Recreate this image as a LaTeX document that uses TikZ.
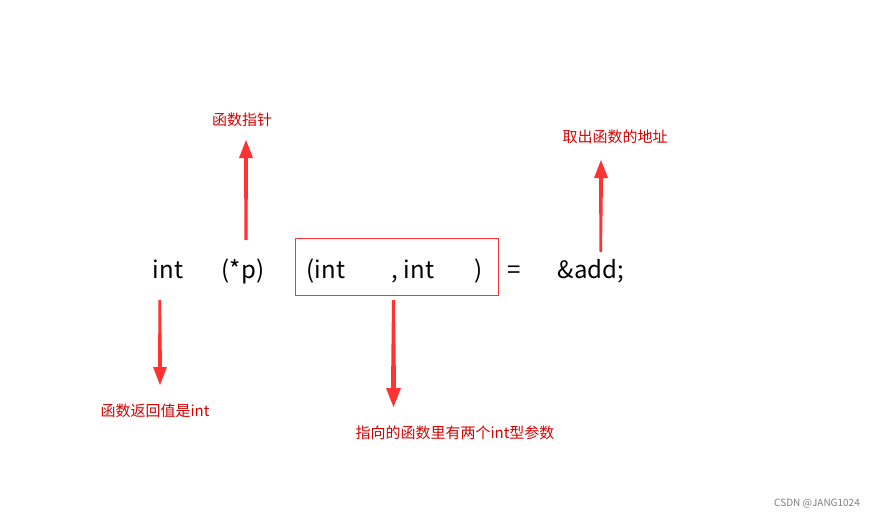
\documentclass[tikz,border=0pt]{standalone}
\usepackage{fontspec}
\setmainfont{Noto Sans CJK SC}
\begin{document}
\begin{tikzpicture}[x=1pt,y=-1pt,
  code/.style={inner sep=0pt,font=\fontsize{24}{28}\selectfont,text=black,anchor=base},
  lab/.style={inner sep=0pt,font=\fontsize{15}{18}\selectfont,text=red!85!black},
  arr/.style={fill=red!80!white}]
\useasboundingbox[fill=white] (0,0) rectangle (889,520);
% code line
\node[code] (t1) at (168,278) {int};
\node[code] (t2) at (243,278) {(*p)};
\node[code] (t3) at (326,278) {(int};
\node[code] (t4) at (413,278) {, int};
\node[code] (t5) at (479,278) {)};
\node[code] (t6) at (514,278) {=};
\node[code] (t7) at (591,278) {\&add;};
\draw[red!80!white,line width=0.8pt] (295,238) rectangle (498,295);
\coordinate (box) at (393,296);
% labels
\node[lab] (l1) at (242,120) {函数指针};
\node[lab] (l2) at (615,137) {取出函数的地址};
\node[lab] (l3) at (155,411) {函数返回值是int};
\node[lab] (l4) at (455,433) {指向的函数里有两个int型参数};
% arrows (tapered wedges)
% up at x=245 from 240 to 140
\fill[arr] (244.5,240) -- (247.5,240) -- (248,158) -- (253,158) -- (246,140) -- (239,158) -- (244,158) -- cycle;
% up at x=600 from 252 to 160
\fill[arr] (599.5,252) -- (602,252) -- (603,178) -- (608,178) -- (601,160) -- (594,178) -- (599,178) -- cycle;
% down at x=160 from 300 to 385
\fill[arr] (158.5,300) -- (161,300) -- (162,367) -- (167,367) -- (160,385) -- (153,367) -- (158,367) -- cycle;
% down at x=393 from 300 to 407
\fill[arr] (392,300) -- (395,300) -- (396,388) -- (401,388) -- (393.5,407) -- (386,388) -- (391,388) -- cycle;
\node[inner sep=0pt,font=\fontsize{10}{12}\selectfont,text=gray] (wm) at (817,504) {CSDN @JANG1024};
\end{tikzpicture}
\end{document}
